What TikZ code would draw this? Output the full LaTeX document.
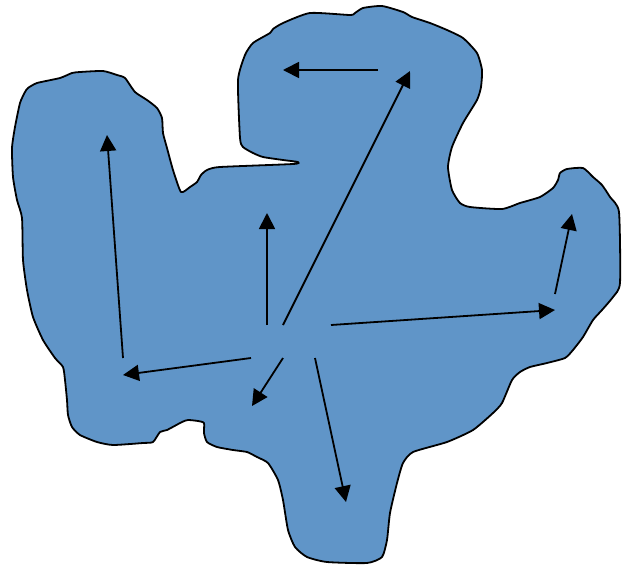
\documentclass[tikz,border=0pt]{standalone}
\usetikzlibrary{arrows.meta}
\definecolor{blobfill}{RGB}{96,149,200}
\tikzset{
  blob/.style={draw=black, line width=1.8pt, fill=blobfill, line join=round},
  vec/.style={draw=black, line width=1.8pt, -{Triangle[length=16pt,width=16pt]}}
}
\begin{document}
\begin{tikzpicture}[x=1pt,y=-1pt]
\useasboundingbox (0,0) rectangle (622,566);
\draw[blob] plot[smooth cycle, tension=0.35] coordinates {
(28,88) (37,83) (60,78) (72,73) (80,72) (103,71) (117,75) (125,78) (135,92) (147,100) (157,108) (162,118) (163,133) (167,148) (173,170) (181,192) (190,187) (197,182) (201,175) (207,170) (220,167) (293,164) (298,162) (283,160) (263,157) (253,153) (243,147) (240,138) (238,80) (245,55) (253,43) (270,33) (273,29) (283,23) (310,13) (350,15) (355,13) (363,8) (382,6) (403,12) (412,17) (430,23) (447,30) (463,38) (477,53) (482,70) (481,87) (477,100) (463,123) (452,147) (448,167) (452,190) (460,203) (470,207) (502,209) (520,203) (540,197) (553,188) (558,180) (560,173) (567,169) (583,168) (593,177) (602,185) (610,197) (619,212) (620,283) (613,297) (602,310) (593,320) (583,337) (573,350) (565,358) (547,363) (530,367) (520,372) (512,380) (502,403) (493,413) (473,430) (447,442) (413,452) (403,463) (397,483) (390,513) (387,540) (382,557) (367,563) (327,562) (307,557) (295,547) (288,530) (283,500) (278,480) (268,463) (257,457) (247,452) (233,450) (217,447) (207,442) (204,433) (204,423) (198,421) (188,420) (182,422) (167,430) (160,432) (153,442) (143,443) (113,445) (97,442) (80,435) (72,427) (68,415) (67,400) (65,380) (63,367) (55,358) (43,340) (33,317) (27,290) (23,260) (22,218) (17,200) (13,177) (12,148) (15,127) (20,103) (25,92)};
% arrow end points
\coordinate (a1s) at (123,358); \coordinate (a1e) at (107,135);
\coordinate (a2s) at (251,358); \coordinate (a2e) at (123,375);
\coordinate (a3s) at (267,325); \coordinate (a3e) at (267,213);
\coordinate (a4s) at (283,325); \coordinate (a4e) at (410,71);
\coordinate (a5s) at (378,70);  \coordinate (a5e) at (283,70);
\coordinate (a6s) at (331,325); \coordinate (a6e) at (555,310);
\coordinate (a7s) at (555,294); \coordinate (a7e) at (572,214);
\coordinate (a8s) at (283,358); \coordinate (a8e) at (252,406);
\coordinate (a9s) at (315,358); \coordinate (a9e) at (346,502);
\foreach \i in {1,...,9} { \draw[vec] (a\i s) -- (a\i e); }
\end{tikzpicture}
\end{document}
